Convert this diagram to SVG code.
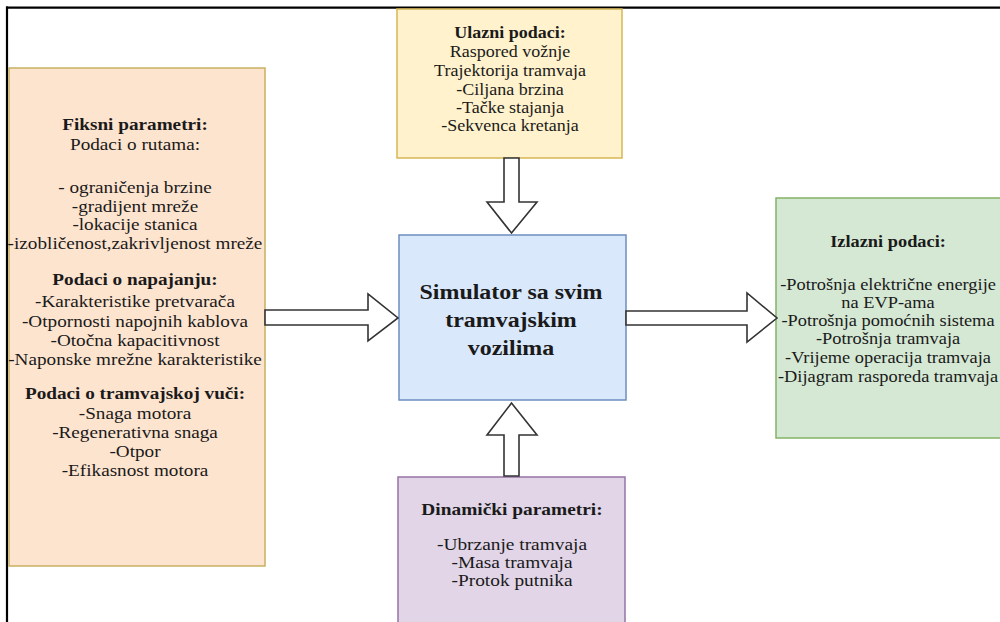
<svg xmlns="http://www.w3.org/2000/svg" width="1000" height="622" viewBox="0 0 1000 622">
<style>
text{font-family:"Liberation Serif","Times New Roman",serif;font-size:17px;fill:#1a1a1a;text-anchor:middle}
.b{font-weight:bold}
.big{font-size:21px;font-weight:bold}
.arr{fill:#ffffff;stroke:#333333;stroke-width:1.6;stroke-linejoin:miter}
</style>
<rect x="0" y="0" width="1000" height="622" fill="#ffffff"/>
<g id="frame">
<line x1="6" y1="7.7" x2="1000" y2="7.7" stroke="#000" stroke-width="2.2"/>
<line x1="7" y1="6.6" x2="7" y2="622" stroke="#000" stroke-width="2.2"/>
</g>
<g id="fiksni">
<rect x="9" y="68" width="256" height="498" fill="#fde4cf" stroke="#c8b060" stroke-width="1.5"/>
<g transform="translate(135 0) scale(1.13 1)">
<text class="b" x="0" y="130">Fiksni parametri:</text>
<text x="0" y="150">Podaci o rutama:</text>
<text x="0" y="193">- ograničenja brzine</text>
<text x="0" y="212">-gradijent mreže</text>
<text x="0" y="230">-lokacije stanica</text>
<text x="0" y="249">-izobličenost,zakrivljenost mreže</text>
<text class="b" x="0" y="285">Podaci o napajanju:</text>
<text x="0" y="307">-Karakteristike pretvarača</text>
<text x="0" y="327">-Otpornosti napojnih kablova</text>
<text x="0" y="346">-Otočna kapacitivnost</text>
<text x="0" y="365">-Naponske mrežne karakteristike</text>
<text class="b" x="0" y="399">Podaci o tramvajskoj vuči:</text>
<text x="0" y="419">-Snaga motora</text>
<text x="0" y="438">-Regenerativna snaga</text>
<text x="0" y="457">-Otpor</text>
<text x="0" y="476">-Efikasnost motora</text>
</g>
</g>
<g id="ulazni">
<rect x="397" y="9" width="225" height="149" fill="#fff2cc" stroke="#d6b656" stroke-width="1.5"/>
<g transform="translate(510 0) scale(1.06 1)">
<text class="b" x="0" y="38">Ulazni podaci:</text>
<text x="0" y="57">Raspored vožnje</text>
<text x="0" y="76">Trajektorija tramvaja</text>
<text x="0" y="95">-Ciljana brzina</text>
<text x="0" y="113">-Tačke stajanja</text>
<text x="0" y="131">-Sekvenca kretanja</text>
</g>
</g>
<g id="simulator">
<rect x="399" y="235" width="227" height="165" fill="#dae8fc" stroke="#6c8ebf" stroke-width="1.5"/>
<g transform="translate(511 0) scale(1.14 1)">
<text class="big" x="0" y="299">Simulator sa svim</text>
<text class="big" x="0" y="327">tramvajskim</text>
<text class="big" x="0" y="355">vozilima</text>
</g>
</g>
<g id="izlazni">
<rect x="776" y="198" width="226" height="240" fill="#d5e8d4" stroke="#82b366" stroke-width="1.5"/>
<g transform="translate(888 0) scale(1.08 1)">
<text class="b" x="0" y="247">Izlazni podaci:</text>
<text x="0" y="290">-Potrošnja električne energije</text>
<text x="0" y="308">na EVP-ama</text>
<text x="0" y="326">-Potrošnja pomoćnih sistema</text>
<text x="0" y="344">-Potrošnja tramvaja</text>
<text x="0" y="363">-Vrijeme operacija tramvaja</text>
<text x="0" y="382">-Dijagram rasporeda tramvaja</text>
</g>
</g>
<g id="dinamicki">
<rect x="398" y="477" width="227" height="150" fill="#e1d5e7" stroke="#9673a6" stroke-width="1.5"/>
<g transform="translate(512 0) scale(1.14 1)">
<text class="b" x="0" y="515">Dinamički parametri:</text>
<text x="0" y="550">-Ubrzanje tramvaja</text>
<text x="0" y="568">-Masa tramvaja</text>
<text x="0" y="586">-Protok putnika</text>
</g>
</g>
<g id="connectors">
<polygon class="arr" points="504,158 519,158 519,202 537,202 511.5,233 487,202 504,202"/>
<polygon class="arr" points="265,310 368,310 368,294 398,318 368,341 368,325 265,325"/>
<polygon class="arr" points="626,311 747,311 747,293 777,318 747,342 747,325 626,325"/>
<polygon class="arr" points="504,476 519,476 519,435 537,435 511.5,403 487,435 504,435"/>
</g>
</svg>
